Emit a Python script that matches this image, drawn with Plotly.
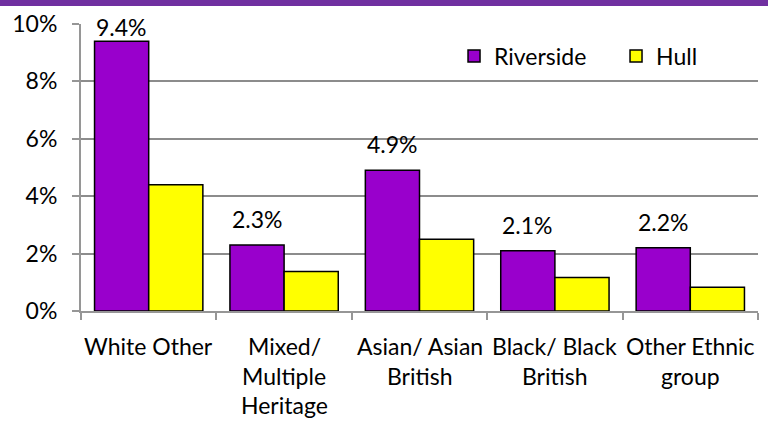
import plotly.graph_objects as go

categories = ["White Other", "Mixed/ Multiple Heritage", "Asian/ Asian British",
              "Black/ Black British", "Other Ethnic group"]
label_lines = [["White Other"], ["Mixed/", "Multiple", "Heritage"], ["Asian/ Asian", "British"],
               ["Black/ Black", "British"], ["Other Ethnic", "group"]]
riverside = [9.4, 2.3, 4.9, 2.1, 2.2]
hull = [4.4, 1.38, 2.5, 1.17, 0.83]
y_ticks = [0, 2, 4, 6, 8, 10]
y_tick_labels = ["0%", "2%", "4%", "6%", "8%", "10%"]
Y_MAX = 10

FONT = "Lato"
FS = 23
W, H = 768, 422
ML, MR, MT, MB = 81, 10, 24, 111
BARGAP = 0.2
plot_w = W - ML - MR
plot_h = H - MT - MB
bar_px = plot_w / len(categories) * (1 - BARGAP) / 2
px_per_unit = plot_h / Y_MAX

fig = go.Figure()
fig.add_trace(go.Bar(x=categories, y=riverside, name="Riverside",
                     marker=dict(color="#9900CC", line=dict(color="#000000", width=1.5))))
fig.add_trace(go.Bar(x=categories, y=hull, name="Hull",
                     marker=dict(color="#FFFF00", line=dict(color="#000000", width=1.5))))

annotations = []
# data labels above the Riverside bars (squeezed down if they would leave the plot area)
for cat, v in zip(categories, riverside):
    fits = (Y_MAX - v) * px_per_unit > 32
    annotations.append(dict(x=cat, xref="x", xshift=-bar_px / 2,
                            y=v, yref="y", yanchor="bottom",
                            yshift=10 if fits else -2,
                            text=f"{v:.1f}%", showarrow=False,
                            font=dict(size=FS, color="#000000", family=FONT)))
# category labels
for cat, lines in zip(categories, label_lines):
    for i, ln in enumerate(lines):
        annotations.append(dict(x=cat, xref="x", y=0, yref="paper", text=ln,
                                showarrow=False, yanchor="middle",
                                yshift=-35 - 29.5 * i,
                                font=dict(size=FS, color="#000000", family=FONT)))

fig.update_layout(
    width=W, height=H,
    margin=dict(l=ML, r=MR, t=MT, b=MB, autoexpand=False),
    paper_bgcolor="white", plot_bgcolor="white",
    barmode="group", bargap=BARGAP, bargroupgap=0,
    font=dict(family=FONT, size=FS, color="#000000"),
    legend=dict(orientation="h", x=0.551, y=0.8885, xanchor="left", yanchor="middle",
                bgcolor="rgba(0,0,0,0)", font=dict(size=FS, family=FONT),
                itemwidth=30, entrywidth=117, entrywidthmode="pixels"),
    xaxis=dict(showticklabels=False, ticks="outside", tickson="boundaries", ticklen=7,
               tickcolor="#969696", tickwidth=1.5, showline=True, linecolor="#969696",
               linewidth=2, showgrid=False, automargin=False),
    yaxis=dict(range=[0, Y_MAX], tickvals=y_ticks, ticktext=y_tick_labels,
               ticks="outside", ticklen=7, tickcolor="#969696", tickwidth=1.5,
               showline=True, linecolor="#969696", linewidth=2,
               showgrid=True, gridcolor="#8c8c8c", gridwidth=2, zeroline=False,
               tickfont=dict(size=FS, family=FONT), ticklabelstandoff=10,
               automargin=False),
    annotations=annotations,
    shapes=[dict(type="rect", xref="paper", yref="paper", x0=-0.2, x1=1.1,
                 ysizemode="pixel", yanchor=1, y0=18, y1=26,
                 fillcolor="#7030A0", line=dict(width=0), layer="above")],
)
fig.write_html("out.html", config={"displayModeBar": False},
               post_script="document.body.style.margin='0';")
